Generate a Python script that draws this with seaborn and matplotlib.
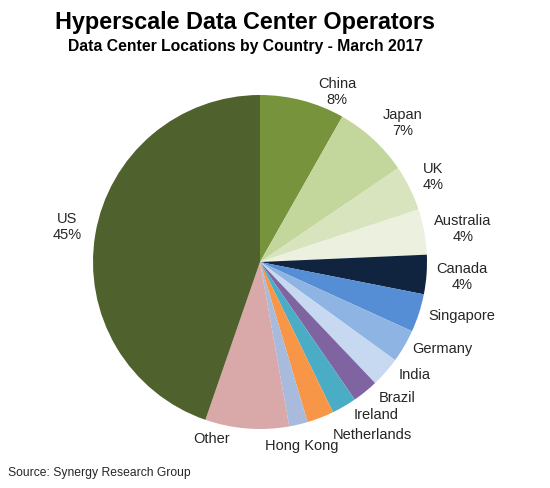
import matplotlib
matplotlib.use("Agg")
import matplotlib.pyplot as plt
import seaborn as sns
import numpy as np

# ---- data (clockwise from 12 o'clock) ----
countries = ["China", "Japan", "UK", "Australia", "Canada", "Singapore", "Germany",
             "India", "Brazil", "Ireland", "Netherlands", "Hong Kong", "Other", "US"]
shares = [8.2, 7.3, 4.4, 4.4, 3.8, 3.7, 3.2, 2.9, 2.5, 2.4, 2.6, 1.8, 8.1, 44.7]
show_pct = [True, True, True, True, True, False, False, False, False, False, False, False, False, True]
colors = ["#77933C", "#C3D69B", "#D7E4BD", "#EBF1DE", "#10243F", "#558ED5", "#8EB4E3",
          "#C6D9F1", "#8064A2", "#4BACC6", "#F79646", "#A9BBDD", "#D9A8A8", "#4F612C"]

title = "Hyperscale Data Center Operators"
subtitle = "Data Center Locations by Country - March 2017"
source = "Source: Synergy Research Group"

# ---- layout: label anchors in figure pixels (x, y-from-top, horizontal alignment) ----
label_layout = {
    "China": (318, 92, "left"), "Japan": (383, 123, "left"), "UK": (423, 177, "left"),
    "Australia": (434, 229, "left"), "Canada": (436, 277, "left"),
    "Singapore": (428, 316, "left"), "Germany": (412, 349, "left"),
    "India": (399, 375, "left"), "Brazil": (379, 398, "left"),
    "Ireland": (354, 415, "left"), "Netherlands": (333, 435, "left"),
    "Hong Kong": (302, 446, "center"), "Other": (212, 439, "center"),
    "US": (67, 227, "center"),
}

sns.set_theme(style="white")
plt.rcParams["font.family"] = ["Liberation Sans", "DejaVu Sans"]

W, H = 550, 489
fig = plt.figure(figsize=(W / 100, H / 100), dpi=100)
fig.patch.set_facecolor("white")

cx, cy, r = 260, 263, 167
ax = fig.add_axes([(cx - r) / W, (H - cy - r) / H, 2 * r / W, 2 * r / H])

labels = [f"{c}\n{s:.0f}%" if p else c for c, s, p in zip(countries, shares, show_pct)]

wedges, texts = ax.pie(shares, labels=labels, colors=colors, startangle=90,
                       counterclock=False, labeldistance=1.1, radius=1.0,
                       wedgeprops=dict(linewidth=0),
                       textprops=dict(fontsize=10.5, color="#262626",
                                      multialignment="center", linespacing=1.2))
ax.set_xlim(-1, 1)
ax.set_ylim(-1, 1)
ax.set_aspect("auto")
ax.axis("off")

for t, c in zip(texts, countries):
    px, py, ha = label_layout[c]
    t.set_transform(fig.transFigure)
    t.set_position((px / W, 1 - py / H))
    t.set_ha(ha)
    t.set_va("center")

fig.text(0.446, 1 - 22 / H, title, ha="center", va="center", fontsize=16.8,
         fontweight="bold", color="black")
fig.text(0.446, 1 - 47 / H, subtitle, ha="center", va="center", fontsize=11.3,
         fontweight="bold", color="black")
fig.text(8 / W, 1 - 473 / H, source, ha="left", va="center", fontsize=8.7, color="#262626")

fig.savefig("out.png", dpi=100, facecolor="white")
